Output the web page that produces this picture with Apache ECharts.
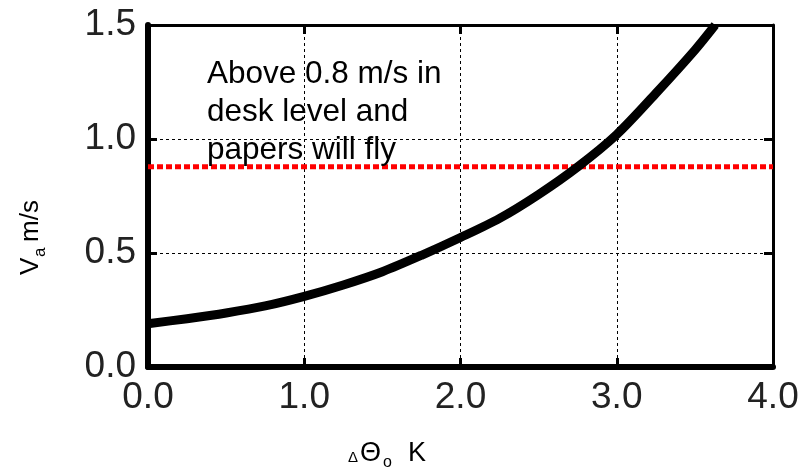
<!DOCTYPE html>
<html><head><meta charset="utf-8">
<script src="https://cdn.jsdelivr.net/npm/echarts@6/dist/echarts.min.js"></script>
<style>html,body{margin:0;padding:0;background:#fff}#c{width:804px;height:469px}</style>
</head><body><div id="c"></div>
<script>
// ---- data ----
const deltaTheta = [0, 0.25, 0.5, 0.75, 1.0, 1.25, 1.5, 1.75, 2.0, 2.25, 2.5, 2.75, 3.0, 3.25, 3.5, 3.63];
const airSpeed   = [0.19, 0.212, 0.237, 0.268, 0.31, 0.36, 0.418, 0.49, 0.568, 0.652, 0.757, 0.878, 1.02, 1.2, 1.39, 1.5];
const limitX = [0, 4];
const limitValue = 0.878;
const xTickLabels = ['0.0', '1.0', '2.0', '3.0', '4.0'];
const yTickLabels = ['0.0', '0.5', '1.0', '1.5'];
const noteLines = ['Above 0.8 m/s in', 'desk level and', 'papers will fly'];

const FONT = '"Liberation Sans", Arial, Helvetica, sans-serif';
const chart = echarts.init(document.getElementById('c'));

const curve = deltaTheta.map((x, i) => [x, airSpeed[i]]);
const limit = limitX.map(x => [x, limitValue]);

const gridLine = { show: true, lineStyle: { color: '#000', width: 1, type: [3, 3] } };
const tickIn = { show: true, inside: true, length: 9, lineStyle: { color: '#000', width: 3 } };

chart.setOption({
  animation: false,
  backgroundColor: '#fff',
  grid: { left: 148, right: 31, top: 25, bottom: 102, containLabel: false },
  xAxis: [{
    type: 'value', min: 0, max: 4, interval: 1, position: 'bottom',
    axisLine: { show: true, onZero: false, lineStyle: { color: '#000', width: 6 } },
    axisTick: tickIn,
    splitLine: gridLine,
    axisLabel: { fontFamily: FONT, fontSize: 37, color: '#222', margin: 12,
      formatter: v => xTickLabels[Math.round(v)] }
  }, {
    type: 'value', min: 0, max: 4, interval: 1, position: 'top',
    axisLine: { show: true, onZero: false, lineStyle: { color: '#000', width: 3 } },
    axisTick: tickIn, splitLine: { show: false }, axisLabel: { show: false }
  }],
  yAxis: [{
    type: 'value', min: 0, max: 1.5, interval: 0.5, position: 'left',
    axisLine: { show: true, onZero: false, lineStyle: { color: '#000', width: 6 } },
    axisTick: tickIn,
    splitLine: gridLine,
    axisLabel: { fontFamily: FONT, fontSize: 37, color: '#222', margin: 12,
      formatter: v => yTickLabels[Math.round(v * 2)] }
  }, {
    type: 'value', min: 0, max: 1.5, interval: 0.5, position: 'right',
    axisLine: { show: true, onZero: false, lineStyle: { color: '#000', width: 3 } },
    axisTick: tickIn, splitLine: { show: false }, axisLabel: { show: false }
  }],
  series: [{
    type: 'line', data: limit, showSymbol: false, symbol: 'none', z: 3,
    lineStyle: { color: '#ff0000', width: 5, type: [6, 3] }
  }, {
    type: 'line', data: curve, smooth: 0.3, showSymbol: false, symbol: 'none', clip: true, z: 4,
    lineStyle: { color: '#000', width: 9, cap: 'butt', join: 'round' }
  }],
  graphic: [
    { type: 'text', left: 207, top: 55, z: 10,
      style: { text: noteLines.join('\n'), fontFamily: FONT, fontSize: 31.5, lineHeight: 38, fill: '#000' } },
    // x-axis name
    { type: 'text', x: 348, y: 465, z: 10, style: { text: 'Δ', fontFamily: FONT, fontSize: 15, fill: '#000', verticalAlign: 'bottom' } },
    { type: 'text', x: 360, y: 467, z: 10, style: { text: 'Θ', fontFamily: FONT, fontSize: 27, fill: '#000', verticalAlign: 'bottom' } },
    { type: 'text', x: 383, y: 471, z: 10, style: { text: 'o', fontFamily: FONT, fontSize: 16, fill: '#000', verticalAlign: 'bottom' } },
    { type: 'text', x: 408, y: 467, z: 10, style: { text: 'K', fontFamily: FONT, fontSize: 27, fill: '#000', verticalAlign: 'bottom' } },
    // y-axis name (rotated)
    { type: 'group', x: 36, y: 275, rotation: Math.PI / 2, children: [
      { type: 'text', x: 0, y: 8, style: { text: 'V', fontFamily: FONT, fontSize: 26, fill: '#000', verticalAlign: 'bottom' } },
      { type: 'text', x: 18, y: 13, style: { text: 'a', fontFamily: FONT, fontSize: 17, fill: '#000', verticalAlign: 'bottom' } },
      { type: 'text', x: 33, y: 8, style: { text: 'm/s', fontFamily: FONT, fontSize: 26, fill: '#000', verticalAlign: 'bottom' } }
    ] }
  ]
});
</script></body></html>
